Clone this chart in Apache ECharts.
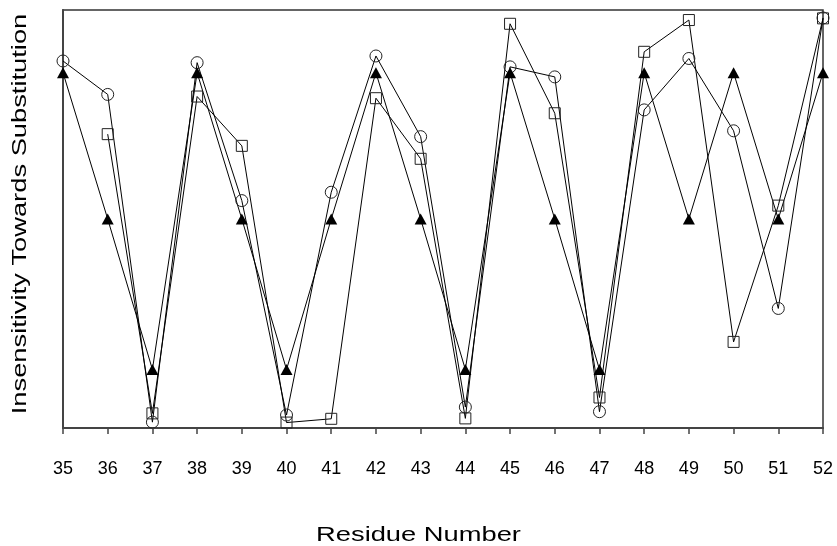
<!DOCTYPE html>
<html>
<head>
<meta charset="utf-8">
<script src="https://cdn.jsdelivr.net/npm/echarts@6/dist/echarts.min.js"></script>
<style>
html,body{margin:0;padding:0;background:#fff;}
#chart{width:837px;height:546px;}
</style>
</head>
<body>
<div id="chart"></div>
<script>
var residues = ['35','36','37','38','39','40','41','42','43','44','45','46','47','48','49','50','51','52'];
var circleSeries = [87.8, 79.8, 1.4, 87.4, 54.4, 3.1, 56.4, 89.0, 69.7, 5.0, 86.4, 84.0, 3.9, 76.1, 88.4, 71.1, 28.6, 98.1];
var squareSeries = [null, 70.3, 3.5, 79.3, 67.5, 1.3, 2.2, 78.9, 64.4, 2.3, 96.7, 75.3, 7.3, 90.0, 97.6, 20.6, 53.2, 98.0];
var triangleSeries = [85, 50, 14, 85, 50, 14, 50, 85, 50, 14, 85, 50, 14, 85, 50, 85, 50, 85];
var xTitle = 'Residue Number';
var yTitle = 'Insensitivity Towards Substitution';

var chart = echarts.init(document.getElementById('chart'), null, {renderer: 'canvas'});
var FONT = '"Liberation Sans", Arial, Helvetica, sans-serif';

function lineSeries(name, data, symbol, size, filled) {
  return {
    name: name,
    type: 'line',
    data: data,
    symbol: symbol,
    symbolSize: size,
    showAllSymbol: true,
    connectNulls: false,
    animation: false,
    lineStyle: {color: '#000', width: 1},
    itemStyle: filled
      ? {color: '#000', borderColor: '#000', borderWidth: 0}
      : {color: 'rgba(255,255,255,0)', borderColor: '#222', borderWidth: 1},
    emphasis: {disabled: true}
  };
}

chart.setOption({
  backgroundColor: '#fff',
  animation: false,
  grid: {
    left: 63, right: 14, top: 10, bottom: 118,
    show: true, borderColor: '#333', borderWidth: 1.5, backgroundColor: 'transparent'
  },
  xAxis: {
    type: 'category',
    data: residues,
    boundaryGap: false,
    axisLine: {lineStyle: {color: '#444', width: 2}},
    axisTick: {show: true, inside: false, length: 6, lineStyle: {color: '#444', width: 1.5}},
    axisLabel: {color: '#000', fontSize: 18, fontFamily: FONT, margin: 32, interval: 0},
    splitLine: {show: false}
  },
  yAxis: {
    type: 'value',
    min: 0,
    max: 100,
    axisLine: {show: true, lineStyle: {color: '#444', width: 2}},
    axisTick: {show: false},
    axisLabel: {show: false},
    splitLine: {show: false}
  },
  graphic: [
    {
      type: 'text',
      left: 'center',
      x: 418, y: 535,
      style: {text: xTitle, fontSize: 21, fontFamily: FONT, fill: '#000', align: 'center', verticalAlign: 'middle'},
      scaleX: 1.3,
      silent: true
    },
    {
      type: 'text',
      x: 20, y: 214,
      rotation: Math.PI / 2,
      style: {text: yTitle, fontSize: 21, fontFamily: FONT, fill: '#000', align: 'center', verticalAlign: 'middle'},
      scaleX: 1.3,
      silent: true
    }
  ],
  series: [
    lineSeries('circles', circleSeries, 'circle', 12, false),
    lineSeries('squares', squareSeries, 'rect', 11, false),
    lineSeries('triangles', triangleSeries, 'triangle', [12, 11], true)
  ]
});
</script>
</body>
</html>
